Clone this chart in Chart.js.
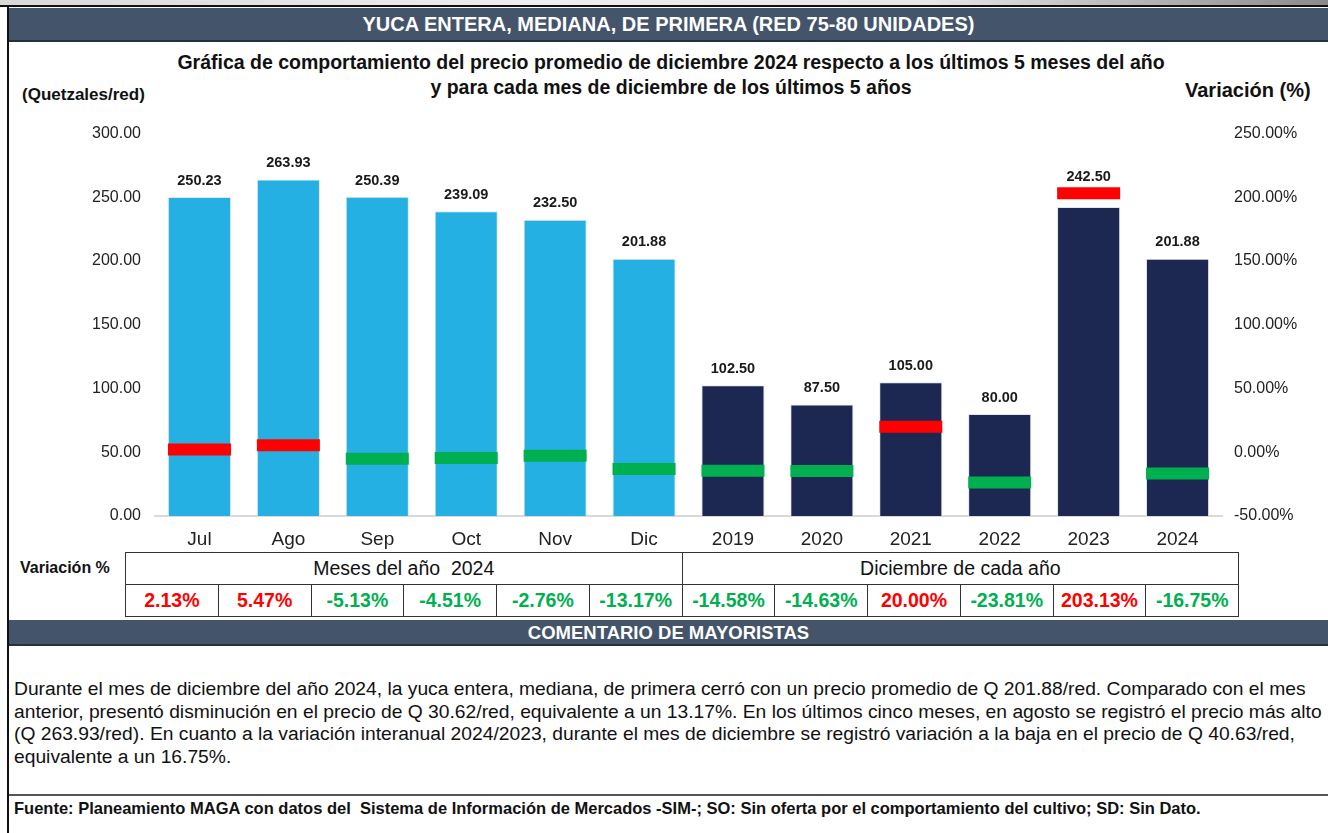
<!DOCTYPE html>
<html><head><meta charset="utf-8">
<script src="https://cdn.jsdelivr.net/npm/chart.js@4.4.1/dist/chart.umd.min.js"></script>
<style>
html,body{margin:0;padding:0;background:#fff;}
body{width:1328px;height:833px;position:relative;overflow:hidden;font-family:"Liberation Sans",Arial,sans-serif;color:#111;}
.abs{position:absolute;}
#strip{left:0;top:0;width:1328px;height:6px;background:linear-gradient(to right,#d8d8d8,#eeeeee 40%,#e6e6e6 70%,#8a8a8a);}
#topline{left:0;top:5px;width:1328px;height:2px;background:#111;}
#leftline{left:7px;top:5px;width:2px;height:828px;background:#111;}
.bar{left:9px;width:1319px;background:#44546A;color:#fff;font-weight:bold;text-align:center;border-bottom:2px solid #26303c;}
#hdr{top:8px;height:32px;line-height:32px;font-size:20px;}
#cmt{top:620px;height:24px;line-height:26px;font-size:18.5px;}
#t1{left:0;width:1342px;top:50px;text-align:center;font-weight:bold;font-size:19.5px;line-height:25px;}
#ql{left:22px;top:85px;font-weight:bold;font-size:17px;}
#vl{left:1185px;top:79px;font-weight:bold;font-size:20px;}
#chartwrap{left:0;top:110px;width:1328px;height:440px;}
#varlbl{left:20px;top:559px;font-weight:bold;font-size:16px;}
#tbl{left:125px;top:552px;border-collapse:collapse;table-layout:fixed;width:1113px;}
#tbl td{border:1.5px solid #333;text-align:center;padding:0;font-size:19.5px;height:31px;overflow:hidden;white-space:nowrap;}
#tbl td.v{font-weight:bold;}
#para{left:14px;top:678px;font-size:19.25px;line-height:22.7px;white-space:nowrap;}
#frule{left:9px;top:794px;width:1319px;height:2px;background:#555;}
#foot{left:14px;top:799px;font-weight:bold;font-size:16.5px;white-space:nowrap;}
</style></head>
<body>
<div id="strip" class="abs"></div>
<div id="topline" class="abs"></div>
<div id="leftline" class="abs"></div>
<div id="hdr" class="abs bar">YUCA ENTERA, MEDIANA, DE PRIMERA (RED 75-80 UNIDADES)</div>
<div id="t1" class="abs">Gráfica de comportamiento del precio promedio de diciembre 2024 respecto a los últimos 5 meses del año<br>y para cada mes de diciembre de los últimos 5 años</div>
<div id="ql" class="abs">(Quetzales/red)</div>
<div id="vl" class="abs">Variación (%)</div>
<div id="chartwrap" class="abs"><canvas id="c" width="1328" height="440"></canvas></div>
<div id="varlbl" class="abs">Variación %</div>
<table id="tbl" class="abs"></table>
<div id="cmt" class="abs bar">COMENTARIO DE MAYORISTAS</div>
<div id="para" class="abs">Durante el mes de diciembre del año 2024, la yuca entera, mediana, de primera cerró con un precio promedio de Q 201.88/red. Comparado con el mes<br>anterior, presentó disminución en el precio de Q 30.62/red, equivalente a un 13.17%. En los últimos cinco meses, en agosto se registró el precio más alto<br>(Q 263.93/red). En cuanto a la variación interanual 2024/2023, durante el mes de diciembre se registró variación a la baja en el precio de Q 40.63/red,<br>equivalente a un 16.75%.</div>
<div id="frule" class="abs"></div>
<div id="foot" class="abs">Fuente: Planeamiento MAGA con datos del&nbsp; Sistema de Información de Mercados -SIM-; SO: Sin oferta por el comportamiento del cultivo; SD: Sin Dato.</div>
<script>
// ---- data ----
const categories = ['Jul','Ago','Sep','Oct','Nov','Dic','2019','2020','2021','2022','2023','2024'];
const prices = [250.23, 263.93, 250.39, 239.09, 232.50, 201.88, 102.50, 87.50, 105.00, 80.00, 242.50, 201.88];
const variation = [2.13, 5.47, -5.13, -4.51, -2.76, -13.17, -14.58, -14.63, 20.00, -23.81, 203.13, -16.75];
const groupNames = ['Meses del año  2024', 'Diciembre de cada año'];
const groupSizes = [6, 6];
const leftTicks = [0, 50, 100, 150, 200, 250, 300];
const rightTicks = [-50, 0, 50, 100, 150, 200, 250];

// ---- styles ----
const LIGHT = '#25B0E3', NAVY = '#1D2852', RED = '#FF0000', GREEN = '#00B050';
const FONT = '"Liberation Sans", Arial, sans-serif';
const barColors = [];
groupSizes.forEach((n, g) => { for (let i = 0; i < n; i++) barColors.push(g === 0 ? LIGHT : NAVY); });
const markColors = variation.map(v => v >= 0 ? RED : GREEN);

// ---- table ----
const tbl = document.getElementById('tbl');
let rows = '<tr>';
groupNames.forEach((g, i) => { rows += '<td colspan="' + groupSizes[i] + '">' + g.replace(/  /g, ' &nbsp;') + '</td>'; });
rows += '</tr><tr>';
variation.forEach(v => { rows += '<td class="v" style="color:' + (v >= 0 ? RED : GREEN) + '">' + v.toFixed(2) + '%</td>'; });
rows += '</tr>';
const cols = '<colgroup>' + variation.map(() => '<col style="width:' + (1113 / variation.length) + 'px">').join('') + '</colgroup>';
tbl.innerHTML = cols + rows;

// ---- labels plugin ----
const labelPlugin = {
  id: 'valLabels',
  afterDatasetsDraw(chart) {
    const ctx = chart.ctx;
    const barMeta = chart.getDatasetMeta(0);
    const markMeta = chart.getDatasetMeta(1);
    ctx.save();
    ctx.font = 'bold 14.5px ' + FONT;
    ctx.fillStyle = '#1a1a1a';
    ctx.textAlign = 'center';
    ctx.textBaseline = 'bottom';
    barMeta.data.forEach((el, i) => {
      let bottom = el.y - 9;
      const m = markMeta.data[i];
      if (m && m.y - 9 < bottom) bottom = m.y - 9;
      ctx.fillText(prices[i].toFixed(2), el.x, bottom);
    });
    ctx.restore();
  }
};

new Chart(document.getElementById('c'), {
  type: 'bar',
  data: {
    labels: categories,
    datasets: [
      {
        label: 'Precio',
        data: prices,
        backgroundColor: barColors,
        borderColor: '#dfe6ee',
        borderWidth: 1,
        categoryPercentage: 1,
        barPercentage: 0.71,
        yAxisID: 'y',
        order: 2
      },
      {
        type: 'line',
        label: 'Variación',
        data: variation,
        yAxisID: 'y2',
        showLine: false,
        pointStyle: 'line',
        pointRadius: 31.5,
        pointHoverRadius: 31.5,
        pointBorderWidth: 12,
        pointHoverBorderWidth: 12,
        pointBorderColor: markColors,
        pointBackgroundColor: markColors,
        order: 1
      }
    ]
  },
  options: {
    responsive: false,
    devicePixelRatio: 1,
    animation: false,
    layout: { autoPadding: false, padding: { top: 17, left: 0, right: 0, bottom: 0 } },
    plugins: { legend: { display: false }, tooltip: { enabled: false } },
    scales: {
      x: {
        grid: { display: false, drawTicks: false },
        border: { display: true, color: '#d9d9d9', width: 2 },
        ticks: { color: '#222', font: { size: 19, family: FONT }, padding: 12, maxRotation: 0 },
        afterFit(s) { s.height = 34; }
      },
      y: {
        position: 'left',
        min: leftTicks[0], max: leftTicks[leftTicks.length - 1],
        afterBuildTicks(s) { s.ticks = leftTicks.map(v => ({ value: v })); },
        grid: { display: false, drawTicks: false },
        border: { display: false },
        ticks: { color: '#222', padding: 14, font: { size: 16, family: FONT }, callback: v => Number(v).toFixed(2) },
        afterFit(s) { s.width = 155; }
      },
      y2: {
        position: 'right',
        min: rightTicks[0], max: rightTicks[rightTicks.length - 1],
        afterBuildTicks(s) { s.ticks = rightTicks.map(v => ({ value: v })); },
        grid: { display: false, drawTicks: false },
        border: { display: false },
        ticks: { color: '#222', padding: 12, font: { size: 16, family: FONT }, callback: v => Number(v).toFixed(2) + '%' },
        afterFit(s) { s.width = 106; }
      }
    }
  },
  plugins: [labelPlugin]
});
</script>
</body></html>
